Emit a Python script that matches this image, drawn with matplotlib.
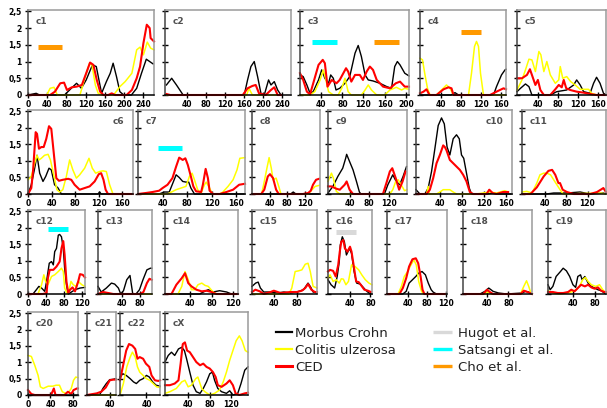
import matplotlib
matplotlib.use("Agg")
import matplotlib.pyplot as plt
from matplotlib.lines import Line2D

# LOD curves per chromosome: (cM, LOD) pairs
# mc = Morbus Crohn, cu = Colitis ulzerosa, ced = CED
mc_c1 = [(0,0),(17,0.05),(24,0),(76,0),(90,0.2),(101,0.35),(111,0.2),(121,0.45),(134,0.9),(142,0.85),(153,0.05),(163,0.4),(171,0.65),(177,0.95),(184,0.55),(191,0.1),(199,0),(215,0),(226,0.2),(236,0.65),(246,1.07),(253,1.0),(260,0.93)]
cu_c1 = [(0,0),(39,0),(46,0.2),(54,0.23),(61,0),(108,0),(119,0.55),(128,0.95),(133,0.9),(140,0.3),(146,0.05),(153,0),(178,0),(191,0.25),(202,0.4),(216,0.65),(226,1.35),(233,1.43),(240,1.2),(248,1.58),(255,1.4),(262,1.35)]
ced_c1 = [(0,0),(46,0),(56,0.1),(67,0.35),(75,0.37),(81,0.15),(91,0.23),(101,0.25),(112,0.3),(121,0.65),(129,0.97),(136,0.9),(143,0.45),(150,0.1),(157,0),(167,0),(174,0.05),(181,0),(205,0),(216,0.15),(226,0.5),(233,0.85),(240,1.55),(247,2.1),(253,2.0),(255,1.7),(262,1.6)]

mc_c2 = [(-3,0.3),(8,0.5),(18,0.3),(32,0),(160,0),(167,0.45),(174,0.85),(181,1.0),(188,0.55),(195,0.05),(202,0),(211,0.45),(216,0.3),(223,0.4),(230,0.15),(237,0)]
cu_c2 = [(-3,0),(165,0),(170,0.2),(177,0),(237,0)]
ced_c2 = [(-3,0.03),(5,0),(157,0),(167,0.2),(177,0.27),(184,0.3),(191,0.05),(205,0),(216,0.15),(223,0.23),(230,0),(237,0)]

mc_c3 = [(0,0.6),(6,0.55),(13,0.3),(19,0.05),(25,0.1),(35,0.45),(41,0.75),(47,0.5),(54,0.35),(58,0.6),(63,0.5),(68,0.15),(75,0.2),(85,0.35),(94,0.55),(104,1.25),(110,1.48),(116,1.15),(123,0.6),(129,0.45),(138,0.42),(151,0.35),(164,0.25),(173,0.2),(179,0.85),(184,1.0),(189,0.9),(198,0.65),(206,0.57)]
cu_c3 = [(0,0),(19,0),(28,0.1),(38,0.45),(44,0.75),(49,0.45),(54,0.1),(63,0),(72,0),(79,0.2),(85,0.5),(91,0.1),(97,0),(116,0),(123,0.15),(129,0.3),(135,0.15),(145,0),(160,0),(170,0.15),(182,0.23),(192,0.15),(198,0.2),(206,0.17)]
ced_c3 = [(0,0.65),(6,0.45),(13,0.1),(19,0.02),(25,0.35),(35,0.9),(43,1.05),(47,0.95),(52,0.25),(60,0.45),(69,0.35),(75,0.45),(87,0.8),(91,0.7),(97,0.4),(104,0.6),(113,0.6),(119,0.45),(126,0.7),(132,0.85),(138,0.75),(145,0.45),(157,0.25),(170,0.2),(181,0.35),(189,0.4),(198,0.25),(206,0.25)]

mc_c4 = [(-2,0),(60,0),(68,0.07),(75,0),(145,0),(151,0.25),(161,0.6),(168,0.75),(170,0.77)]
cu_c4 = [(-2,1.1),(3,1.05),(8,0.6),(13,0.2),(18,0),(31,0),(41,0.15),(51,0.3),(58,0.2),(65,0),(95,0),(101,0.65),(107,1.45),(111,1.6),(115,1.45),(119,0.65),(125,0),(170,0)]
ced_c4 = [(-2,0.05),(5,0.1),(11,0.17),(17,0),(31,0),(45,0.17),(55,0.23),(61,0.2),(65,0),(138,0),(151,0.1),(165,0.2),(170,0.17)]

mc_c5 = [(-3,0.1),(4,0.2),(14,0.33),(21,0.25),(27,0),(64,0),(77,0.1),(97,0.15),(111,0.3),(117,0.45),(124,0.3),(131,0.1),(144,0.05),(151,0.35),(157,0.53),(164,0.35),(171,0.05),(177,0)]
cu_c5 = [(-3,0.15),(7,0.45),(14,0.75),(21,1.07),(27,1.05),(34,0.7),(41,1.3),(45,1.2),(51,0.7),(57,1.0),(64,0.6),(74,0.35),(81,0.45),(84,0.85),(89,0.5),(97,0.55),(105,0.4),(114,0.3),(124,0.17),(141,0.17),(147,0.05),(157,0),(177,0)]
ced_c5 = [(-3,0.5),(7,0.5),(17,0.6),(23,0.77),(27,0.6),(34,0.3),(39,0.45),(44,0.15),(51,0),(64,0),(74,0.17),(81,0.3),(87,0.23),(91,0.45),(96,0.2),(104,0.15),(117,0.1),(131,0.07),(144,0.03),(157,0),(177,0)]

mc_c6 = [(0,0),(5.6,0.28),(11.3,0.78),(15.3,1.17),(19.8,0.63),(25.4,0.38),(30,0.53),(35.6,0.78),(39.5,0.73),(45,0.28),(51,0.18),(56.5,0),(118.6,0),(121.5,0.06),(124,0),(178,0)]
cu_c6 = [(0,0.43),(5.6,0.53),(11.3,0.93),(15.3,1.17),(18.6,1.03),(22.6,1.08),(28,1.17),(34,1.2),(38,1.03),(42.4,0.68),(49,0.13),(53.7,0.06),(59,0.13),(65,0.53),(70.6,1.03),(76,0.73),(82,0.48),(87.6,0.58),(96,0.78),(103.4,1.08),(109,0.78),(114.7,0.63),(121.5,0.68),(127,0.7),(132.8,0.68),(138.4,0.28),(144,0),(178,0)]
ced_c6 = [(0,0),(5.6,0.18),(8.5,0.68),(13,1.87),(15.3,1.82),(18.6,1.37),(22.6,1.42),(26.6,1.42),(31,1.67),(35.6,2.05),(39.5,1.97),(43.5,1.27),(48,0.48),(52.5,0.4),(59,0.43),(68,0.46),(73.4,0.43),(79,0.28),(87.6,0.13),(96,0.18),(104.5,0.23),(113,0.38),(120,0.6),(124,0.63),(128,0.43),(131.6,0.13),(135.6,0),(178,0)]

mc_c7 = [(0,0),(34.4,0),(42.6,0.06),(50.8,0.06),(56,0.3),(62,0.58),(67,0.5),(72.7,0.38),(78,0.36),(82.5,0.36),(86,0.18),(91.8,0),(174,0)]
cu_c7 = [(0,0),(48,0),(62,0.13),(70,0.18),(78,0.23),(83.6,0.53),(88,0.63),(91.8,0.43),(97,0.13),(102.7,0.03),(108,0.28),(111,0.36),(116.4,0.18),(120.8,0),(133,0),(138,0.06),(146.4,0.23),(154.6,0.43),(161,0.73),(165.6,1.08),(174,1.1)]
ced_c7 = [(0,0),(12.6,0.03),(23.5,0.06),(34.4,0.1),(40,0.18),(48,0.28),(56,0.48),(62,0.83),(67,1.1),(72.7,1.03),(77,1.08),(81,0.88),(86,0.53),(90,0.23),(94.5,0.08),(102.7,0.06),(105.5,0.28),(110,0.76),(113.7,0.48),(116.4,0.1),(122,0),(133,0),(143.7,0.06),(154.6,0.13),(164.5,0.28),(174,0.31)]

mc_c8 = [(0,0),(88,0),(94,0.06),(100,0),(155,0)]
cu_c8 = [(0,0),(22,0),(28,0.38),(34,0.78),(39,1.1),(44,0.78),(48,0.43),(55,0.48),(61,0.23),(66,0),(128,0),(132,0.06),(144,0.23),(153,0.26)]
ced_c8 = [(0,0),(21,0),(28,0.13),(36,0.53),(41,0.6),(48,0.48),(55,0.13),(61,0),(116,0),(128,0.03),(134,0.1),(139,0.28),(146,0.43),(153,0.46)]

mc_c9 = [(-4,0.03),(6,0.23),(16,0.53),(26,0.78),(32,1.08),(34,1.2),(40,0.98),(47,0.73),(54,0.38),(60,0.06),(63,0),(111,0),(118,0.28),(128,0.58),(135,0.38),(142,0.28),(149,0.53),(156,0.83)]
cu_c9 = [(-4,0.38),(3,0.63),(7,0.48),(13,0.08),(20,0),(122,0),(128,0.13),(134,0.38),(139,0.43),(145,0.28),(152,0.1),(157,0.13)]
ced_c9 = [(-4,0.23),(3,0.23),(13,0.16),(20,0.13),(30,0.28),(34,0.38),(40,0.13),(47,0),(108,0),(115,0.33),(122,0.68),(127,0.78),(134,0.48),(141,0.13),(148,0.38),(154,0.68)]

mc_c10 = [(-3,0.13),(4,0),(13,0),(19,0.18),(25,0.68),(31,1.37),(37,2.07),(43,2.3),(48,2.12),(53,1.42),(58,1.18),(64,1.67),(70,1.79),(75,1.67),(79,1.18),(83,1.08),(88,0.63),(93,0.18),(97,0),(125,0),(135,0.03),(145,0),(170,0)]
cu_c10 = [(-3,0),(16,0),(19,0.23),(21,0),(34,0),(40,0.06),(46,0.13),(58,0.13),(64,0.06),(70,0),(106,0),(130,0.06),(142,0.03),(157,0.1),(163,0.06)]
ced_c10 = [(-3,0),(16,0),(22,0.13),(28,0.48),(34,0.93),(40,1.18),(46,1.47),(49,1.42),(52,1.32),(58,1.03),(64,0.93),(70,0.83),(76,0.73),(82,0.58),(88,0.38),(94,0.06),(100,0),(124,0),(129,0.13),(135,0.03),(142,0),(154,0.06),(163,0.06)]

mc_c11 = [(-4,0),(42,0),(56,0.03),(81,0.03),(106,0.06),(125,0),(150,0.03),(155,0)]
cu_c11 = [(-4,0.06),(5,0.08),(15,0.03),(24,0.33),(30,0.58),(37,0.63),(43,0.63),(50,0.58),(56,0.43),(62,0.28),(68,0.13),(74,0),(145,0.03),(155,0)]
ced_c11 = [(-4,0),(12,0),(24,0.2),(37,0.53),(46,0.7),(53,0.73),(59,0.58),(65,0.33),(68,0.33),(73,0.13),(81,0.06),(94,0),(125,0),(138,0.06),(150,0.18),(155,0.06)]

mc_c12 = [(0,0),(11,0),(18.5,0.13),(24,0.23),(30,0.18),(37,0.08),(41,0.38),(47,0.93),(52,0.98),(56,0.88),(59,1.28),(63,1.38),(67,1.78),(70,1.8),(74,1.73),(78,1.38),(81,0.78),(85,0.28),(89,0),(96,0.06),(104,0.13),(115,0.18),(126,0.2)]
cu_c12 = [(0,0),(22,0),(30,0.28),(35,0.58),(39,0.38),(44,0.28),(52,0.53),(59,0.58),(67,0.68),(74,0.78),(78,0.68),(81,0.18),(87,0),(91,0.13),(95,0.38),(100,0.28),(106,0.23),(111,0.38),(119,0.28),(126,0.23)]
ced_c12 = [(0,0),(33,0),(41,0.03),(44,0.48),(48,0.73),(56,0.73),(63,0.83),(70,0.98),(74,1.38),(78,1.6),(81,1.18),(85,0.38),(89,0.03),(93,0.13),(98.5,0.2),(104,0.08),(111,0.38),(115,0.6),(121,0.58),(126,0.5)]

mc_c13 = [(-11,0.23),(-4,0.06),(7,0.18),(18,0.33),(25,0.3),(33,0.18),(38,0),(44,0.1),(51,0.43),(58,0.56),(64,0),(71,0),(78.5,0.13),(86,0.43),(94.5,0.73),(102,0.78),(105,0.78)]
cu_c13 = [(-11,0),(105,0)]
ced_c13 = [(-11,0),(0,0.06),(11,0.03),(22,0),(80,0),(87,0.06),(94.5,0.33),(100,0.46),(105,0.43)]

mc_c14 = [(-6,0),(58,0),(65,0.06),(74,0.13),(83,0.06),(95,0.1),(108,0.06),(117,0),(129,0)]
cu_c14 = [(-6,0),(18,0),(25,0.23),(31,0.68),(37,0.43),(43,0.13),(49,0.13),(55,0.28),(62,0.33),(68,0.26),(74,0.23),(83,0.06),(89,0),(129,0)]
ced_c14 = [(-6,0),(6,0),(15,0.28),(25,0.48),(31,0.63),(37,0.33),(43,0.23),(52,0.13),(62,0.08),(71,0.1),(80,0.06),(89,0),(129,0)]

mc_c15 = [(0,0.23),(6.5,0.33),(11,0.36),(15,0.18),(21,0.06),(33,0.06),(45,0.03),(57,0.06),(68,0.03),(80,0.06),(92,0.13),(100,0.33),(105,0.2),(109,0.06),(116,0.03)]
cu_c15 = [(0,0),(66,0),(71,0.18),(77,0.68),(83,0.7),(89,0.73),(95,0.9),(100,0.93),(104,0.68),(109,0.23),(116,0.18)]
ced_c15 = [(0,0.06),(6,0.13),(14,0.08),(21,0),(33,0.06),(39,0.1),(51,0.03),(68,0.06),(80,0.06),(89,0.1),(95,0.18),(100,0.3),(106,0.13),(112,0.06),(116,0.06)]

mc_c16 = [(-3,0.43),(3,0.28),(10,0.18),(15,0.53),(19,0.98),(21,1.48),(25,1.73),(29,1.58),(33,1.18),(39,1.38),(43,1.23),(48,0.68),(53,0.33),(60,0.3),(67,0.18),(73,0.08),(80,0),(83,0)]
cu_c16 = [(-3,0.48),(1,0.58),(7,0.38),(13,0.43),(19,0.33),(23,0.46),(27,0.45),(32,0.28),(37,0.38),(43,0.88),(50,0.83),(57,0.73),(63,0.58),(70,0.43),(77,0.33),(83,0.28)]
ced_c16 = [(-3,0.68),(1,0.73),(7,0.7),(12,0.53),(17,0.88),(20,1.28),(23,1.58),(27,1.63),(30,1.38),(35,1.28),(40,1.43),(43,1.28),(47,0.88),(52,0.38),(57,0.36),(61,0.28),(68,0.13),(75,0.1),(81,0.06)]

mc_c17 = [(-3,0),(30,0),(37,0.08),(43,0.33),(50,0.43),(57,0.53),(63,0.63),(70,0.68),(77,0.58),(83,0.33),(89,0.13),(93,0.06),(100,0),(117,0)]
cu_c17 = [(-3,0),(20,0),(27,0.23),(33,0.53),(40,0.68),(47,0.88),(53,1.03),(58,0.88),(63,0.38),(69,0.08),(73,0),(117,0)]
ced_c17 = [(-3,0),(23,0),(30,0.18),(37,0.48),(43,0.83),(50,1.05),(57,1.08),(62,0.93),(67,0.53),(71,0.13),(75,0),(117,0)]

mc_c18 = [(-3,0),(28,0),(37,0.08),(44,0.18),(52,0.08),(62,0.03),(77,0),(105,0.03),(111,0.08),(117,0.06),(123,0)]
cu_c18 = [(-3,0),(37,0),(43,0.06),(49,0),(102,0),(108,0.23),(113,0.4),(117,0.23),(121,0.03),(123,0)]
ced_c18 = [(-3,0),(34,0),(41,0.13),(46,0.06),(52,0),(102,0),(108,0.1),(115,0.06),(123,0)]

mc_c19 = [(-6,0.28),(-2,0.13),(3,0.23),(9,0.53),(17,0.68),(22,0.78),(28,0.7),(34,0.53),(40,0.28),(45,0.2),(49,0.53),(54,0.58),(57,0.43),(62,0.53),(68,0.33),(74,0.23),(80,0.18),(86,0.13),(92,0.1),(98,0.03),(101,0)]
cu_c19 = [(-6,0.1),(3,0.03),(15,0),(28,0.03),(37,0.06),(46,0.13),(52,0.23),(58,0.43),(63,0.5),(68,0.38),(74,0.28),(82,0.23),(89,0.28),(95,0.13),(101,0.03)]
ced_c19 = [(-6,0.06),(3,0.06),(12,0.03),(22,0.03),(31,0.06),(37,0.13),(43,0.08),(49,0.18),(55,0.28),(62,0.23),(68,0.28),(74,0.2),(80,0.16),(86,0.2),(92,0.1),(98,0.06),(101,0.06)]

mc_c20 = [(0,0),(89,0)]
cu_c20 = [(0,1.21),(6,1.18),(12,0.91),(18,0.6),(22,0.25),(27,0.2),(36,0.27),(44,0.27),(50,0.3),(56,0.3),(61,0.1),(67,0.05),(73,0.1),(77,0.2),(81,0.45),(85,0.55),(89,0.53)]
ced_c20 = [(0,0.15),(6,0.03),(12,0),(41,0),(46,0.2),(49,0),(65,0),(71,0.1),(77,0.03),(81,0.15),(87,0.2),(89,0.2)]

mc_c21 = [(0,0),(22,0),(28,0.2),(34,0.35),(40,0.47),(46,0.48),(51,0.5)]
cu_c21 = [(0,0),(51,0)]
ced_c21 = [(0,0),(17,0.05),(25,0.1),(33,0.23),(40,0.45),(46,0.47),(51,0.47)]

mc_c22 = [(-7,0.55),(-2,0.65),(4,0.6),(11,0.5),(17,0.4),(22,0.35),(28,0.45),(34,0.5),(40,0.6),(45,0.55),(51,0.4),(57,0.3),(64,0.27)]
cu_c22 = [(-7,0),(-1,0.35),(5,0.86),(11,1.16),(15,1.31),(20,1.16),(24,0.86),(28,0.7),(34,0.6),(40,0.5),(46,0.45),(52,0.35),(58,0.25),(64,0.23)]
ced_c22 = [(-7,0.45),(-2,0.86),(4,1.36),(9,1.56),(15,1.51),(20,1.41),(24,1.11),(28,1.16),(34,1.11),(39,0.96),(45,0.86),(49,0.6),(55,0.45),(61,0.43),(64,0.45)]

mc_cX = [(-3,1.01),(3,1.21),(9,1.31),(15,1.21),(22,1.41),(28,1.46),(33,1.36),(37,1.11),(43,0.7),(49,0.3),(55,0.1),(62,0.05),(68,0.2),(74,0.4),(80,0.65),(85,0.7),(89,0.45),(95,0.2),(102,0.1),(111,0.05),(117,0.13),(123,0),(132,0.05),(138,0.35),(145,0.76),(151,0.86)]
cu_cX = [(-3,0.05),(6,0.1),(18,0.2),(28,0.4),(34,0.45),(40,0.25),(46,0.3),(54,0.5),(58,0.55),(65,0.2),(71,0.1),(80,0),(89,0.05),(98,0.15),(105,0.4),(111,0.7),(117,1.06),(123,1.36),(129,1.66),(135,1.81),(140,1.66),(146,1.36),(151,1.31)]
ced_cX = [(-3,0.3),(6,0.3),(15,0.35),(22,0.45),(26,0.96),(30,1.56),(34,1.61),(38,1.36),(43,1.31),(49,1.16),(55,1.01),(62,0.91),(68,0.96),(74,0.86),(80,0.81),(86,0.7),(91,0.55),(95,0.3),(102,0.25),(111,0.35),(117,0.45),(123,0.3),(128,0.05),(135,0),(145,0.05),(151,0.07)]

# linkage regions from earlier studies: (chromosome, start cM, end cM, LOD level)
hugot_bars = [("c16", 12, 52, 1.86)]
satsangi_bars = [("c3", 22, 69, 1.59), ("c7", 32, 72, 1.40), ("c12", 44, 89, 1.98)]
cho_bars = [("c1", 21, 71, 1.44), ("c3", 140, 187, 1.59), ("c4", 80, 119, 1.89)]

ytick_vals = [0, 0.5, 1, 1.5, 2, 2.5]
ytick_text = ["0", "0,5", "1", "1,5", "2", "2,5"]

# layout: name, curves, left px, right px, row, xlim, x tick labels, label on right
panels = [
    ("c1", mc_c1, cu_c1, ced_c1, 28, 154, 0, (0, 262), [0, 40, 80, 120, 160, 200, 240], False),
    ("c2", mc_c2, cu_c2, ced_c2, 165, 291, 0, (-6, 258), [40, 80, 120, 160, 200, 240], False),
    ("c3", mc_c3, cu_c3, ced_c3, 300, 409, 0, (0, 206), [40, 80, 120, 160, 200], False),
    ("c4", mc_c4, cu_c4, ced_c4, 420, 506, 0, (-2, 170), [40, 80, 120, 160], False),
    ("c5", mc_c5, cu_c5, ced_c5, 517, 606, 0, (-3, 176), [40, 80, 120, 160], False),
    ("c6", mc_c6, cu_c6, ced_c6, 28, 133, 1, (0, 178), [0, 40, 80, 120, 160], True),
    ("c7", mc_c7, cu_c7, ced_c7, 138, 245, 1, (0, 174), [40, 80, 120, 160], False),
    ("c8", mc_c8, cu_c8, ced_c8, 252, 320, 1, (0, 155), [40, 80, 120], False),
    ("c9", mc_c9, cu_c9, ced_c9, 328, 407, 1, (-4, 157), [40, 80, 120], False),
    ("c10", mc_c10, cu_c10, ced_c10, 416, 512, 1, (-3, 170), [40, 80, 120, 160], True),
    ("c11", mc_c11, cu_c11, ced_c11, 522, 606, 1, (-4, 155), [40, 80, 120], False),
    ("c12", mc_c12, cu_c12, ced_c12, 28, 85, 2, (0, 126), [0, 40, 80, 120], False),
    ("c13", mc_c13, cu_c13, ced_c13, 98, 152, 2, (-11, 105.5), [40, 80], False),
    ("c14", mc_c14, cu_c14, ced_c14, 165, 238, 2, (-6, 129), [40, 80, 120], False),
    ("c15", mc_c15, cu_c15, ced_c15, 252, 317, 2, (0, 116), [40, 80], False),
    ("c16", mc_c16, cu_c16, ced_c16, 328, 372, 2, (-3, 83), [40, 80], False),
    ("c17", mc_c17, cu_c17, ced_c17, 387, 447, 2, (-3, 122), [40, 80, 120], False),
    ("c18", mc_c18, cu_c18, ced_c18, 463, 532, 2, (-3, 123), [40, 80], False),
    ("c19", mc_c19, cu_c19, ced_c19, 548, 606, 2, (-6, 101), [40, 80], False),
    ("c20", mc_c20, cu_c20, ced_c20, 28, 78, 3, (0, 89), [0, 40, 80], False),
    ("c21", mc_c21, cu_c21, ced_c21, 87, 116, 3, (0, 51), [40], False),
    ("c22", mc_c22, cu_c22, ced_c22, 120, 160, 3, (-7, 64), [40], False),
    ("cX", mc_cX, cu_cX, ced_cX, 165, 248, 3, (-3, 151), [40, 80, 120], False),
]

W, H = 607, 408
row_px = [(10, 95), (110, 194), (210, 294), (312, 395)]
first_col = {"c1", "c6", "c12", "c20"}

col_mc = "black"
col_cu = "#ffff00"
col_ced = "#ff0000"
col_hugot = "#d9d9d9"
col_sats = "#00ffff"
col_cho = "#ff9900"

tick_font = {"family": "DejaVu Sans", "weight": "bold", "size": 5.5}

fig = plt.figure(figsize=(W / 100, H / 100), dpi=100)

axes = {}
for name, mc, cu, ced, x0, x1, row, xlim, xt, lab_right in panels:
    top, bot = row_px[row]
    ax = fig.add_axes([x0 / W, 1 - bot / H, (x1 - x0) / W, (bot - top) / H])
    axes[name] = ax
    for data, col, lw in ((mc, col_mc, 1.0), (cu, col_cu, 1.1), (ced, col_ced, 1.5)):
        xs = [p[0] for p in data]
        ys = [p[1] for p in data]
        ax.plot(xs, ys, color=col, lw=lw, solid_joinstyle="round", clip_on=False)
    ax.set_xlim(*xlim)
    ax.set_ylim(0, 2.54)
    ax.set_xticks(xt)
    ax.set_xticklabels([str(v) for v in xt], fontdict=tick_font)
    ax.set_yticks(ytick_vals)
    if name in first_col:
        ax.set_yticklabels(ytick_text, fontdict=tick_font)
    else:
        ax.set_yticklabels([])
    ax.tick_params(axis="x", direction="inout", length=4, width=1, pad=1.5, colors="black")
    ax.tick_params(axis="y", direction="inout", length=5, width=1, pad=2, colors="black")
    ax.spines["left"].set_color("#444444")
    ax.spines["bottom"].set_color("black")
    ax.spines["top"].set_color("#9a9a9a")
    ax.spines["right"].set_color("#9a9a9a")
    for s in ax.spines.values():
        s.set_linewidth(1.1)
    if lab_right:
        ax.annotate(name, xy=(1, 1), xycoords="axes fraction", xytext=(-9, -12),
                    textcoords="offset pixels", ha="right", va="center",
                    fontsize=6.5, fontweight="bold", color="#505050")
    else:
        ax.annotate(name, xy=(0, 1), xycoords="axes fraction", xytext=(8, -12),
                    textcoords="offset pixels", ha="left", va="center",
                    fontsize=6.5, fontweight="bold", color="#505050")

for bars, col in ((hugot_bars, col_hugot), (satsangi_bars, col_sats), (cho_bars, col_cho)):
    for name, a, b, lod in bars:
        axes[name].plot([a, b], [lod, lod], color=col, lw=3.6, solid_capstyle="butt")

h1 = [Line2D([], [], color=col_mc, lw=1.6),
      Line2D([], [], color=col_cu, lw=1.6),
      Line2D([], [], color=col_ced, lw=2.2)]
leg1 = fig.legend(h1, ["Morbus Crohn", "Colitis ulzerosa", "CED"],
                  loc="upper left", bbox_to_anchor=(276 / W, 1 - 327 / H),
                  frameon=False, fontsize=9.5, handlelength=1.2, handletextpad=0.25,
                  labelspacing=0.3, borderpad=0, borderaxespad=0, labelcolor="#222222")
h2 = [Line2D([], [], color=col_hugot, lw=2.4, solid_capstyle="butt"),
      Line2D([], [], color=col_sats, lw=2.4, solid_capstyle="butt"),
      Line2D([], [], color=col_cho, lw=2.4, solid_capstyle="butt")]
leg2 = fig.legend(h2, ["Hugot et al.", "Satsangi et al.", "Cho et al."],
                  loc="upper left", bbox_to_anchor=(433 / W, 1 - 327 / H),
                  frameon=False, fontsize=9.5, handlelength=1.45, handletextpad=0.45,
                  labelspacing=0.3, borderpad=0, borderaxespad=0, labelcolor="#222222")

fig.savefig("out.png", dpi=100)
